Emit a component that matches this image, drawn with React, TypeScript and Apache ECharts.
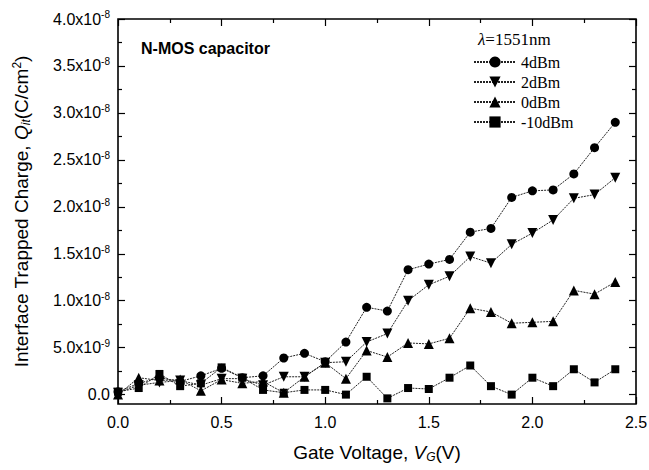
import React, { useEffect, useRef } from "react";
import * as echarts from "echarts";

// Gate voltage V_G (V)
const gateVoltage = [0, 0.1, 0.2, 0.3, 0.4, 0.5, 0.6, 0.7, 0.8, 0.9, 1.0, 1.1, 1.2, 1.3, 1.4, 1.5, 1.6, 1.7, 1.8, 1.9, 2.0, 2.1, 2.2, 2.3, 2.4];

// Interface trapped charge Q_it, in units of 1e-9 C/cm^2
const q4dBm = [0.3, 1.2, 1.8, 1.4, 2.0, 2.8, 1.8, 2.0, 3.9, 4.4, 3.5, 5.6, 9.3, 8.9, 13.3, 13.9, 14.4, 17.3, 17.7, 21.0, 21.7, 21.8, 23.5, 26.3, 29.0];
const q2dBm = [0.2, 1.0, 1.3, 1.5, 1.0, 1.7, 1.7, 1.0, 1.9, 1.9, 3.4, 3.5, 5.6, 6.5, 10.0, 11.7, 12.6, 14.7, 14.0, 16.0, 17.2, 18.6, 20.9, 21.3, 23.1];
const q0dBm = [0.0, 1.8, 1.5, 1.6, 0.4, 1.6, 1.2, 1.4, 0.2, 1.9, 3.4, 1.7, 4.7, 4.0, 5.5, 5.4, 6.0, 9.2, 8.8, 7.6, 7.7, 7.8, 11.1, 10.7, 12.0];
const qMinus10dBm = [0.3, 0.7, 2.2, 0.9, 1.2, 2.9, 1.8, 0.5, 0.2, 0.5, 0.5, 0.0, 1.9, -0.4, 0.7, 0.6, 1.8, 3.1, 0.9, 0.0, 1.8, 0.9, 2.7, 1.3, 2.7];

const seriesNames = ["4dBm", "2dBm", "0dBm", "-10dBm"];
const seriesValues = [q4dBm, q2dBm, q0dBm, qMinus10dBm];
const seriesSymbols = ["circle", "triangle", "triangle", "rect"];
const seriesSymbolRotate = [0, 180, 0, 0];
const seriesSymbolSize = [9, 10, 10, 8];

const yMajorTicks = [0, 5, 10, 15, 20, 25, 30, 35, 40];
const yMinorTicks = [2.5, 7.5, 12.5, 17.5, 22.5, 27.5, 32.5, 37.5];

const SANS = "Liberation Sans";
const SERIF = "Liberation Serif";

function yLabel(v: number): string {
  if (Math.abs(v) < 1e-9) return "0.0";
  if (v < 0) return "";
  const exp = v >= 10 ? -8 : -9;
  const mant = v >= 10 ? v / 10 : v;
  return `{b|${mant.toFixed(1)}x10}{s|${exp}}`;
}

export default function App() {
  const ref = useRef<HTMLDivElement>(null);
  useEffect(() => {
    if (!ref.current) return;
    const chart = echarts.init(ref.current, null, { renderer: "svg" });
    const noLine = { show: false, onZero: false };
    const tickStyle = { color: "#000", width: 1.2 };
    const xCommon = {
      type: "value",
      min: 0,
      max: 2.5,
      interval: 0.5,
      axisLine: noLine,
      splitLine: { show: false },
      axisTick: { show: true, inside: true, length: 7, lineStyle: tickStyle },
      minorTick: { show: true, splitNumber: 2, length: 4, lineStyle: tickStyle },
    };
    const yCommon = {
      type: "value",
      min: -1,
      max: 40,
      axisLine: noLine,
      splitLine: { show: false },
    };
    const option: any = {
      animation: false,
      backgroundColor: "#fff",
      grid: {
        left: 118,
        right: 13,
        top: 19,
        bottom: 66,
        containLabel: false,
        outerBoundsMode: "none",
        show: true,
        borderColor: "#000",
        borderWidth: 1.6,
        backgroundColor: "transparent",
      },
      xAxis: [
        {
          ...xCommon,
          position: "bottom",
          axisLabel: { show: true, margin: 10, fontFamily: SANS, fontSize: 16, color: "#000", formatter: (v: number) => v.toFixed(1) },
          name: "{n|Gate Voltage, }{i|V}{sub|G}{n|(V)}",
          nameLocation: "middle",
          nameGap: 38,
          nameTextStyle: {
            fontFamily: SANS,
            fontSize: 19,
            color: "#000",
            rich: {
              n: { fontFamily: SANS, fontSize: 19, color: "#000" },
              i: { fontFamily: SANS, fontSize: 19, fontStyle: "italic", color: "#000" },
              sub: { fontFamily: SANS, fontSize: 12, fontStyle: "italic", color: "#000", padding: [9, 0, 0, 0] },
            },
          },
        },
        { ...xCommon, position: "top", axisLabel: { show: false } },
      ],
      yAxis: [
        {
          ...yCommon,
          position: "left",
          axisTick: { show: true, inside: true, length: 7, customValues: yMajorTicks, lineStyle: tickStyle },
          axisLabel: {
            show: true,
            customValues: yMajorTicks,
            margin: 8,
            formatter: yLabel,
            fontFamily: SANS,
            fontSize: 16,
            color: "#000",
            rich: {
              b: { fontFamily: SANS, fontSize: 16, color: "#000" },
              s: { fontFamily: SANS, fontSize: 10, color: "#000", padding: [0, 0, 9, 0] },
            },
          },
          name: "{n|Interface Trapped Charge, }{i|Q}{sub|it}{n|(C/cm}{sup|2}{n|)}",
          nameLocation: "middle",
          nameRotate: 90,
          nameGap: 86,
          nameTextStyle: {
            fontFamily: SANS,
            fontSize: 19,
            color: "#000",
            rich: {
              n: { fontFamily: SANS, fontSize: 19, color: "#000" },
              i: { fontFamily: SANS, fontSize: 19, fontStyle: "italic", color: "#000" },
              sub: { fontFamily: SANS, fontSize: 12, fontStyle: "italic", color: "#000", padding: [9, 0, 0, 0] },
              sup: { fontFamily: SANS, fontSize: 12, color: "#000", padding: [0, 0, 9, 0] },
            },
          },
        },
        {
          ...yCommon,
          position: "right",
          axisTick: { show: true, inside: true, length: 7, customValues: yMajorTicks, lineStyle: tickStyle },
          axisLabel: { show: false },
        },
        {
          ...yCommon,
          position: "left",
          axisTick: { show: true, inside: true, length: 4, customValues: yMinorTicks, lineStyle: tickStyle },
          axisLabel: { show: false },
        },
        {
          ...yCommon,
          position: "right",
          axisTick: { show: true, inside: true, length: 4, customValues: yMinorTicks, lineStyle: tickStyle },
          axisLabel: { show: false },
        },
      ],
      legend: {
        orient: "vertical",
        left: 468,
        top: 49,
        itemWidth: 42,
        itemHeight: 14,
        itemGap: 4,
        data: seriesNames,
        textStyle: { fontFamily: SERIF, fontSize: 16, lineHeight: 16, color: "#000" },
      },
      graphic: [
        {
          type: "text",
          left: 141,
          top: 40,
          style: { text: "N-MOS capacitor", fontFamily: SANS, fontWeight: "bold", fontSize: 16, fill: "#000" },
        },
        {
          type: "text",
          left: 478,
          top: 31,
          style: {
            text: "{i|λ}{n|=1551nm}",
            rich: {
              i: { fontFamily: SERIF, fontStyle: "italic", fontSize: 17, fill: "#000" },
              n: { fontFamily: SERIF, fontSize: 17, fill: "#000" },
            },
          },
        },
      ],
      series: seriesNames.map((name, k) => ({
        name,
        type: "line",
        xAxisIndex: 0,
        yAxisIndex: 0,
        data: gateVoltage.map((v, i) => [v, seriesValues[k][i]]),
        symbol: seriesSymbols[k],
        symbolRotate: seriesSymbolRotate[k],
        symbolSize: seriesSymbolSize[k],
        itemStyle: { color: "#000" },
        lineStyle: { color: "#222", width: 1, type: [2, 1] },
        z: 10 - k,
      })),
    };
    chart.setOption(option);
    return () => chart.dispose();
  }, []);
  return <div ref={ref} style={{ position: "fixed", left: 0, top: 0, width: 649, height: 470 }} />;
}
